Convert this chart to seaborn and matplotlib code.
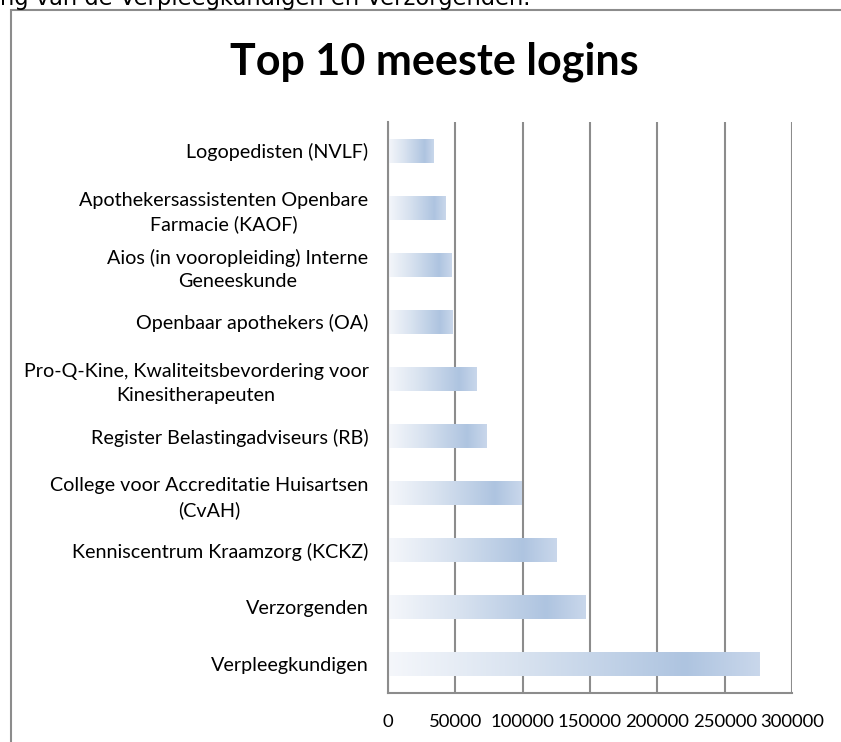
import numpy as np
import pandas as pd
import seaborn as sns
import matplotlib
matplotlib.use("Agg")
from matplotlib import pyplot as plt
from matplotlib.colors import LinearSegmentedColormap
from matplotlib.patches import Rectangle

# data
categories = [
    "Logopedisten (NVLF)",
    "Apothekersassistenten Openbare\nFarmacie (KAOF)",
    "Aios (in vooropleiding) Interne\nGeneeskunde",
    "Openbaar apothekers (OA)",
    "Pro-Q-Kine, Kwaliteitsbevordering voor\nKinesitherapeuten",
    "Register Belastingadviseurs (RB)",
    "College voor Accreditatie Huisartsen\n(CvAH)",
    "Kenniscentrum Kraamzorg (KCKZ)",
    "Verzorgenden",
    "Verpleegkundigen",
]
logins = [34000, 43000, 47000, 48000, 66000, 73000, 99000, 125000, 147000, 275500]
x_ticks = [0, 50000, 100000, 150000, 200000, 250000, 300000]

title = "Top 10 meeste logins"
top_line = "ng van de Verpleegkundigen en Verzorgenden."

sns.set_theme(style="white")
plt.rcParams["font.family"] = ["Lato", "DejaVu Sans"]

grey = "#8c8c8c"
df = pd.DataFrame({"groep": categories, "logins": logins})

fig = plt.figure(figsize=(8.41, 7.42), dpi=100)
ax = fig.add_axes([388 / 841, 1 - 693 / 742, 404 / 841, 571 / 742])

sns.barplot(data=df, x="logins", y="groep", orient="h", color="#b4c8e3",
            width=0.42, ax=ax)

# gradient fill like the excel bars
cmap = LinearSegmentedColormap.from_list(
    "xl", [(0.0, "#f5f7fb"), (0.35, "#d9e3f0"), (0.8, "#aec4e0"), (1.0, "#c9d7eb")])
grad = np.linspace(0, 1, 256).reshape(1, -1)
ylim = ax.get_ylim()
for p in ax.patches:
    x0, y0, w, h = p.get_x(), p.get_y(), p.get_width(), p.get_height()
    im = ax.imshow(grad, cmap=cmap, aspect="auto", extent=(x0, x0 + w, y0 + h, y0),
                   zorder=2, interpolation="bilinear")
    im.set_clip_path(p)
    p.set_facecolor("none")
    p.set_edgecolor("none")

ax.set_xlim(0, 300000)
ax.set_ylim(ylim)
ax.set_xticks(x_ticks)
ax.set_xticklabels([str(t) for t in x_ticks])
ax.set_xlabel("")
ax.set_ylabel("")
ax.grid(axis="x", color=grey, lw=1.5)
ax.set_axisbelow(True)
for s in ["top", "right"]:
    ax.spines[s].set_visible(False)
for s in ["left", "bottom"]:
    ax.spines[s].set_color(grey)
    ax.spines[s].set_linewidth(1.5)
ax.tick_params(axis="both", length=0, colors="black")
ax.tick_params(axis="x", pad=15, labelsize=13.3)
ax.tick_params(axis="y", pad=14, labelsize=14.2)
for lbl in ax.get_yticklabels():
    lbl.set_multialignment("center")
    lbl.set_linespacing(1.45)

fig.text(434 / 841, 1 - 75 / 742, title, ha="center", va="baseline",
         fontsize=31, fontweight="bold", color="black")
fig.text(0, 1 - 5 / 742, top_line, ha="left", va="baseline", fontsize=16.3,
         family=["DejaVu Sans"], color="black")

# chart frame, runs off the right and bottom of the screenshot
fig.patches.append(Rectangle((11 / 841, -0.1), 1.2, 1.1 - 10 / 742,
                             transform=fig.transFigure, fill=False,
                             edgecolor=grey, lw=1.5, figure=fig))

fig.savefig("out.png", dpi=100)
